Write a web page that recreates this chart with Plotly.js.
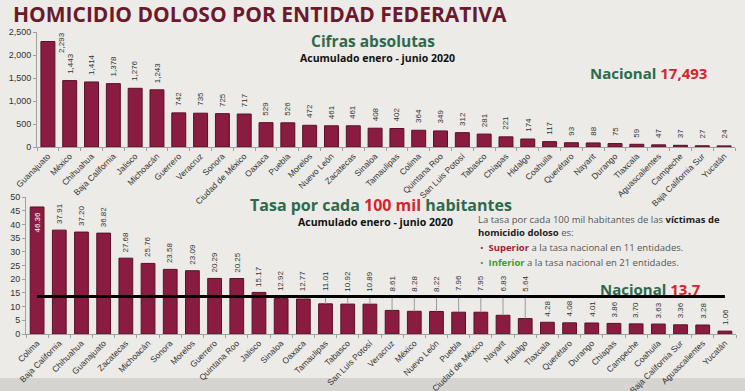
<!DOCTYPE html>
<html><head><meta charset="utf-8">
<script src="https://cdn.plot.ly/plotly-3.0.1.min.js"></script>
<style>html,body{margin:0;padding:0;background:#ecebe8;}#chart{width:745px;height:391px;}</style>
</head><body><div id="chart"></div>
<script>
// ---- data ----
const absStates = ["Guanajuato","México","Chihuahua","Baja California","Jalisco","Michoacán","Guerrero","Veracruz","Sonora","Ciudad de México","Oaxaca","Puebla","Morelos","Nuevo León","Zacatecas","Sinaloa","Tamaulipas","Colima","Quintana Roo","San Luis Potosí","Tabasco","Chiapas","Hidalgo","Coahuila","Querétaro","Nayarit","Durango","Tlaxcala","Aguascalientes","Campeche","Baja California Sur","Yucatán"];
const absValues = [2293,1443,1414,1378,1276,1243,742,735,725,717,529,526,472,461,461,408,402,364,349,312,281,221,174,117,93,88,75,59,47,37,27,24];
const rateStates = ["Colima","Baja California","Chihuahua","Guanajuato","Zacatecas","Michoacán","Sonora","Morelos","Guerrero","Quintana Roo","Jalisco","Sinaloa","Oaxaca","Tamaulipas","Tabasco","San Luis Potosí","Veracruz","México","Nuevo León","Puebla","Ciudad de México","Nayarit","Hidalgo","Tlaxcala","Querétaro","Durango","Chiapas","Campeche","Coahuila","Baja California Sur","Aguascalientes","Yucatán"];
const rateValues = [46.36,37.91,37.20,36.82,27.68,25.76,23.58,23.09,20.29,20.25,15.17,12.92,12.77,11.01,10.92,10.89,8.61,8.28,8.22,7.96,7.95,6.83,5.64,4.28,4.08,4.01,3.86,3.70,3.63,3.36,3.28,1.06];
const nationalRate = 13.7;
const nationalTotal = 17493;
const absTicks = [0,500,1000,1500,2000,2500];
const rateTicks = [0,5,10,15,20,25,30,35,40,45,50];

// ---- helpers ----
const W = 745, H = 391;
const px = v => v / W;
const py = v => 1 - v / H;
const fmtInt = v => v.toLocaleString('en-US');
const BAR = '#8a1c42', BARLINE = '#5c0f2a';
const GREEN = '#2d6a4c', RED = '#d3262c', MAROON = '#6b1a2c';
const TXT = '#333333';
const LBLFONT = {family: 'Liberation Sans, Arial, sans-serif', size: 8, color: TXT};
const HEAD = 'Open Sans, Noto Sans, sans-serif';

const supCount = rateValues.filter(v => v > nationalRate).length;
const infCount = rateValues.filter(v => v <= nationalRate).length;

// ---- traces ----
const traces = [
  {type: 'bar', x: absStates, y: absValues, xaxis: 'x', yaxis: 'y',
   marker: {color: BAR, line: {color: BARLINE, width: 1}}, width: 0.64, hoverinfo: 'x+y'},
  {type: 'bar', x: rateStates, y: rateValues, xaxis: 'x2', yaxis: 'y2',
   marker: {color: BAR, line: {color: BARLINE, width: 1}}, width: 0.62, hoverinfo: 'x+y'}
];
// leader lines for mid-size rates
const lx = [], ly = [];
rateValues.forEach((v, i) => {
  if (v >= 5 && v < nationalRate) { lx.push(rateStates[i], rateStates[i], null); ly.push(v, nationalRate, null); }
});
traces.push({type: 'scatter', mode: 'lines', x: lx, y: ly, xaxis: 'x2', yaxis: 'y2',
  line: {color: '#9a9a9a', width: 1}, hoverinfo: 'skip'});
// national line
traces.push({type: 'scatter', mode: 'lines', x: [rateStates[0], rateStates[rateStates.length - 1]],
  y: [nationalRate, nationalRate], xaxis: 'x2', yaxis: 'y2',
  line: {color: '#000', width: 3}, hoverinfo: 'skip'});

// ---- annotations ----
const ann = [];
absValues.forEach((v, i) => {
  if (i === 0) {
    ann.push({xref: 'x', yref: 'y', x: absStates[i], y: absTicks[absTicks.length - 1], text: fmtInt(v),
      showarrow: false, textangle: -90, xanchor: 'left', yanchor: 'top', xshift: 7, yshift: 2, font: LBLFONT});
  } else {
    ann.push({xref: 'x', yref: 'y', x: absStates[i], y: v, text: fmtInt(v),
      showarrow: false, textangle: -90, xanchor: 'center', yanchor: 'bottom', yshift: 5, font: LBLFONT});
  }
});
rateValues.forEach((v, i) => {
  const t = v.toFixed(2);
  if (i === 0) {
    ann.push({xref: 'x2', yref: 'y2', x: rateStates[i], y: v, text: t, showarrow: false, textangle: -90,
      xanchor: 'center', yanchor: 'top', yshift: -3, font: Object.assign({}, LBLFONT, {color: '#fff'})});
  } else if (v >= 5 && v < nationalRate) {
    ann.push({xref: 'x2', yref: 'y2', x: rateStates[i], y: nationalRate, text: t, showarrow: false, textangle: -90,
      xanchor: 'center', yanchor: 'bottom', yshift: 3, font: LBLFONT});
  } else {
    ann.push({xref: 'x2', yref: 'y2', x: rateStates[i], y: v, text: t, showarrow: false, textangle: -90,
      xanchor: 'center', yanchor: 'bottom', yshift: 4, font: LBLFONT});
  }
});
const P = (x, y, text, size, opts) => Object.assign({xref: 'paper', yref: 'paper', x: px(x), y: py(y), text: text,
  showarrow: false, xanchor: 'left', yanchor: 'middle', font: {family: HEAD, size: size, color: '#222'}}, opts || {});
ann.push(P(11, 14, '<b>HOMICIDIO DOLOSO POR ENTIDAD FEDERATIVA</b>', 21, {font: {family: HEAD, size: 21, color: MAROON}}));
ann.push(P(373, 41, '<b>Cifras absolutas</b>', 15.5, {xanchor: 'center', font: {family: HEAD, size: 15.5, color: GREEN}}));
ann.push(P(377, 58, '<b>Acumulado enero - junio 2020</b>', 10.5, {xanchor: 'center', font: {family: HEAD, size: 10.5, color: '#111'}}));
ann.push(P(588, 73, '<b>Nacional <span style="color:' + RED + '">' + fmtInt(nationalTotal) + '</span></b>', 15, {font: {family: HEAD, size: 15, color: GREEN}}));
ann.push(P(381, 205, '<b>Tasa por cada <span style="color:' + RED + '">100 mil</span> habitantes</b>', 16, {xanchor: 'center', font: {family: HEAD, size: 16, color: GREEN}}));
ann.push(P(375, 222, '<b>Acumulado enero - junio 2020</b>', 10.5, {xanchor: 'center', font: {family: HEAD, size: 10.5, color: '#111'}}));
ann.push(P(476, 219, 'La tasa por cada 100 mil habitantes de las <b style="color:#222">víctimas de</b>', 9.5, {font: {family: HEAD, size: 9.5, color: '#555'}}));
ann.push(P(476, 232, '<b style="color:#222">homicidio doloso</b> es:', 9.5, {font: {family: HEAD, size: 9.5, color: '#555'}}));
ann.push(P(478, 247, '<span style="color:#a01d35">•</span>  <b style="color:#a01d35">Superior</b> a la tasa nacional en ' + supCount + ' entidades.', 9.5, {font: {family: HEAD, size: 9.5, color: '#555'}}));
ann.push(P(478, 262, '<span style="color:#3c9a34">•</span>  <b style="color:#3c9a34">Inferior</b> a la tasa nacional en ' + infCount + ' entidades.', 9.5, {font: {family: HEAD, size: 9.5, color: '#555'}}));
ann.push(P(598, 289, '<b>Nacional <span style="color:' + RED + '">' + nationalRate.toFixed(1) + '</span></b>', 15, {font: {family: HEAD, size: 15, color: GREEN}}));

const tickFont = {family: 'Liberation Sans, Arial, sans-serif', size: 9, color: TXT};
const catFont = {family: 'Liberation Sans, Arial, sans-serif', size: 8.5, color: TXT};
const layout = {
  width: W, height: H, margin: {l: 0, r: 0, t: 0, b: 0},
  paper_bgcolor: '#ecebe8', plot_bgcolor: 'rgba(0,0,0,0)', showlegend: false, bargap: 0.36,
  xaxis: {domain: [px(37), px(735)], anchor: 'y', type: 'category', range: [-0.5, 31.5], tickangle: -45,
    tickfont: catFont, showline: true, linecolor: '#a0a0a0', ticks: 'outside', tickson: 'boundaries', ticklen: 3, tickcolor: '#a0a0a0', showgrid: false},
  yaxis: {domain: [py(147), py(32)], anchor: 'x', range: [0, 2500], tickvals: absTicks, tickformat: ',', tickfont: tickFont,
    showline: true, linecolor: '#a0a0a0', ticks: 'outside', ticklen: 3, tickcolor: '#a0a0a0', showgrid: false, zeroline: false},
  xaxis2: {domain: [px(26), px(736)], anchor: 'y2', type: 'category', range: [-0.5, 31.5], tickangle: -45,
    tickfont: catFont, showline: true, linecolor: '#a0a0a0', ticks: 'outside', tickson: 'boundaries', ticklen: 3, tickcolor: '#a0a0a0', showgrid: false},
  yaxis2: {domain: [py(334), py(197)], anchor: 'x2', range: [0, 50], tickvals: rateTicks, tickfont: tickFont,
    showline: true, linecolor: '#a0a0a0', ticks: 'outside', ticklen: 3, tickcolor: '#a0a0a0', showgrid: false, zeroline: false},
  annotations: ann,
  shapes: [{type: 'rect', xref: 'paper', yref: 'paper', x0: 0, x1: 1, y0: 0, y1: py(378), fillcolor: '#d6d4d0', line: {width: 0}, layer: 'below'}]
};
Plotly.newPlot('chart', traces, layout, {displayModeBar: false, staticPlot: true});
</script></body></html>
